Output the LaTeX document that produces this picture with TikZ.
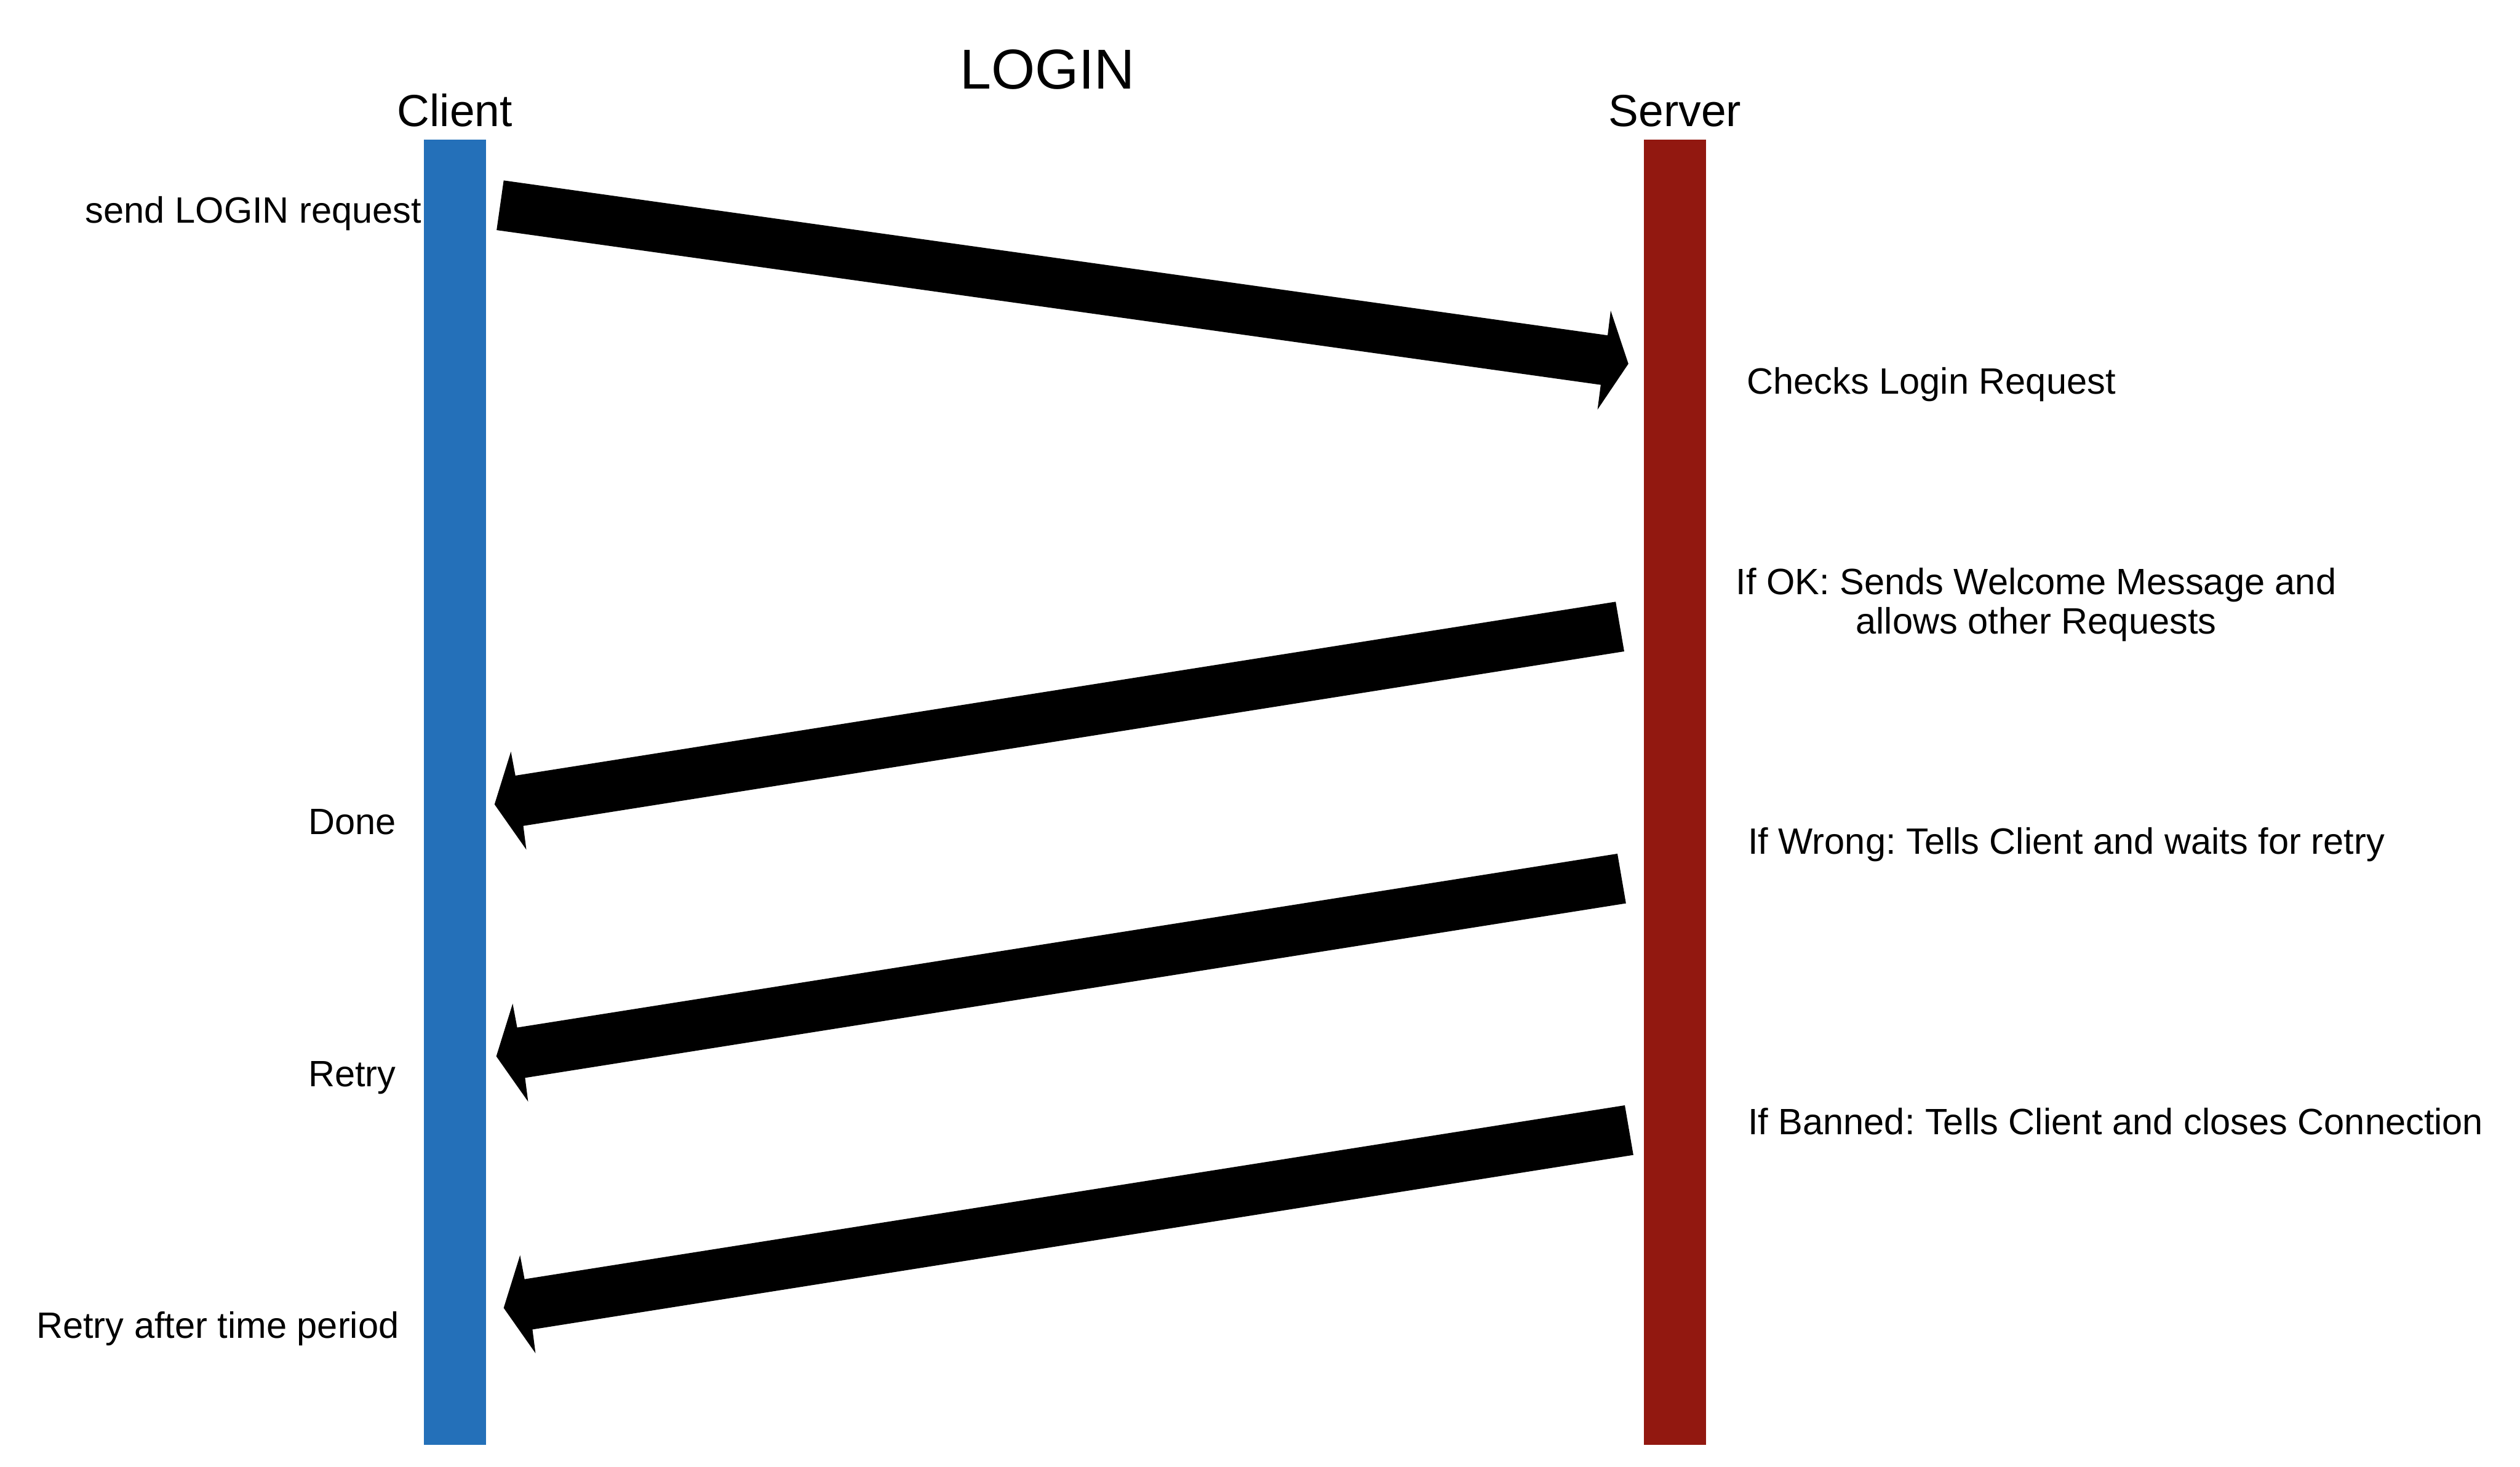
\documentclass[tikz,border=0pt]{standalone}
\usepackage{fontspec}
\setmainfont{Liberation Sans}
\frenchspacing
\definecolor{clientblue}{RGB}{36,112,185}
\definecolor{serverred}{RGB}{146,24,16}
\begin{document}
\begin{tikzpicture}[x=1pt,y=-1pt,
  lifeline/.style={draw=none,inner sep=0pt,anchor=north west,minimum width=38.8pt,minimum height=812.5pt},
  lbl/.style={inner sep=0pt,font=\fontsize{22.8}{27}\selectfont},
  head/.style={inner sep=0pt,font=\fontsize{28}{32}\selectfont},
  msg/.style={fill=black,draw=none}]
\useasboundingbox (0,0) rectangle (1568,913);
% lifelines
\node[lifeline,fill=clientblue] (client) at (263.4,86.7) {};
\node[lifeline,fill=serverred] (server) at (1022.6,86.7) {};
% titles
\node[inner sep=0pt,anchor=base,font=\fontsize{35}{40}\selectfont] (title) at (651.7,55.3) {LOGIN};
\node[head,anchor=base] (clientlbl) at (client.north |- 0,78.7) {Client};
\node[head,anchor=base] (serverlbl) at (server.north |- 0,78.7) {Server};
% left labels
\node[lbl,anchor=base west] (send) at (53,138.6) {send LOGIN request};
\node[lbl,anchor=base west] (done) at (191.6,519.4) {Done};
\node[lbl,anchor=base west] (retry) at (191.6,676.2) {Retry};
\node[lbl,anchor=base west] (retrylater) at (22.5,832.8) {Retry after time period};
% right labels
\node[lbl,anchor=base west] (checks) at (1086.8,245) {Checks Login Request};
\node[lbl,anchor=base west] (ok1) at (1080,369.8) {If OK: Sends Welcome Message and};
\coordinate (ok2y) at (0,394.6);
\node[lbl,anchor=base] (ok2) at (ok1.base |- ok2y) {allows other Requests};
\node[lbl,anchor=base west] (wrong) at (1087.4,531.4) {If Wrong: Tells Client and waits for retry};
\node[lbl,anchor=base west] (banned) at (1087.4,705.9) {If Banned: Tells Client and closes Connection};
% request arrow (client -> server)
\fill[msg] (313.4,112.3) -- (1000.3,208.7) -- (1002.2,193.3) -- (1013.2,226.4)
  -- (994,254.9) -- (996,239.5) -- (309,143.2) -- cycle;
% reply arrows (server -> client)
\def\replyarrow{(1005.3,374.5) -- (320.7,482.7) -- (317.9,467.8) -- (307.7,500.6)
  -- (327.5,528.8) -- (325.6,514) -- (1010.6,405.4) -- cycle}
\fill[msg] \replyarrow;
\begin{scope}[shift={(1.1,156.8)}]
\fill[msg] \replyarrow;
\end{scope}
\begin{scope}[shift={(5.7,313.4)}]
\fill[msg] \replyarrow;
\end{scope}
\end{tikzpicture}
\end{document}
